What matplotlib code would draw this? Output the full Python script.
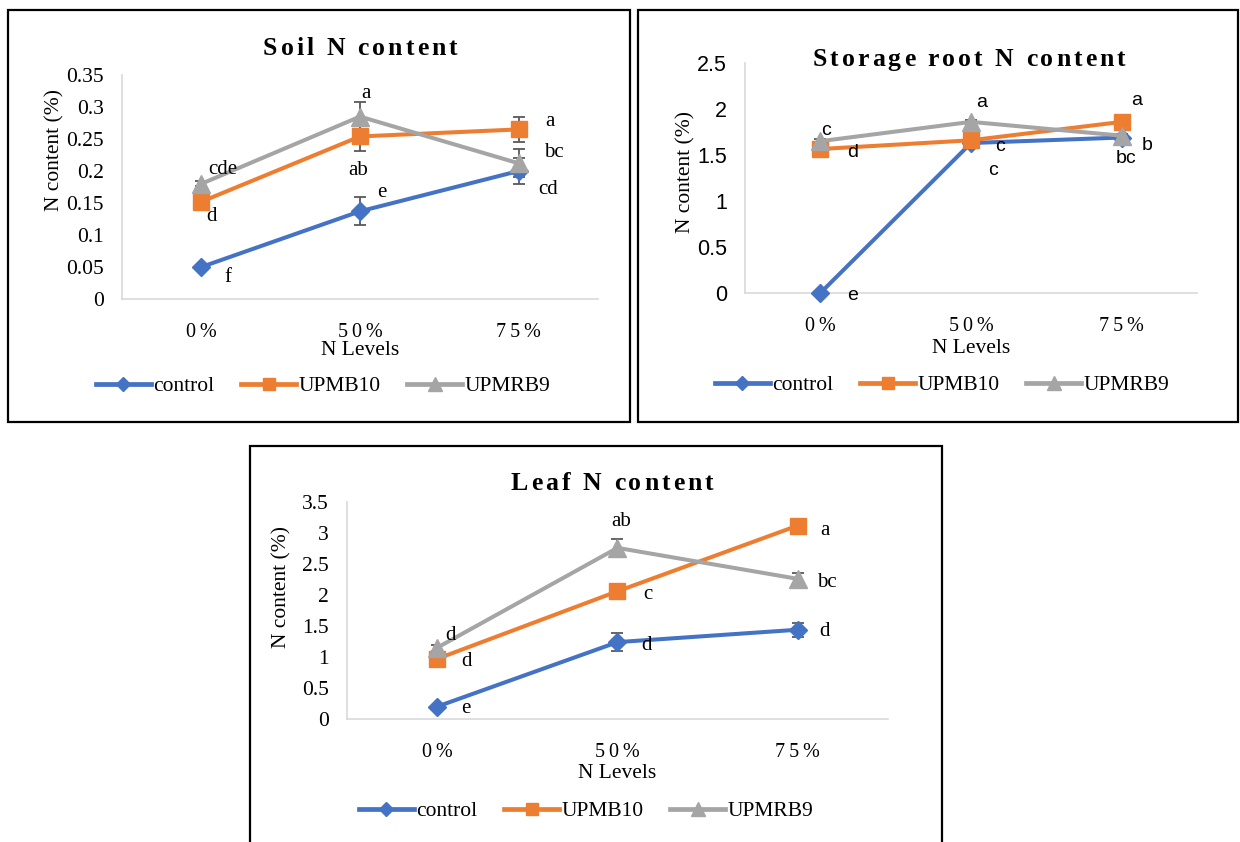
import matplotlib
matplotlib.use('Agg')
import matplotlib.pyplot as plt
from matplotlib.lines import Line2D
from matplotlib.patches import Rectangle
from matplotlib.font_manager import FontProperties

# ---------------- data ----------------
levels = ['0 %', '50 %', '75 %']
series = ['control', 'UPMB10', 'UPMRB9']

soil_control = [0.050, 0.137, 0.200]
soil_upmb10 = [0.152, 0.254, 0.265]
soil_upmrb9 = [0.180, 0.285, 0.212]
soil_err_control = [0.003, 0.022, 0.020]
soil_err_upmb10 = [0.004, 0.023, 0.020]
soil_err_upmrb9 = [0.004, 0.023, 0.022]
soil_letters_control = ['f', 'e', 'cd']
soil_letters_upmb10 = ['d', 'ab', 'a']
soil_letters_upmrb9 = ['cde', 'a', 'bc']
soil_yticks = [0, 0.05, 0.1, 0.15, 0.2, 0.25, 0.3, 0.35]

root_control = [0.00, 1.63, 1.69]
root_upmb10 = [1.565, 1.66, 1.86]
root_upmrb9 = [1.65, 1.86, 1.71]
root_err_control = [0.01, 0.02, 0.02]
root_err_upmb10 = [0.02, 0.02, 0.02]
root_err_upmrb9 = [0.02, 0.02, 0.02]
root_letters_control = ['e', 'c', 'bc']
root_letters_upmb10 = ['d', 'c', 'a']
root_letters_upmrb9 = ['c', 'a', 'b']
root_yticks = [0, 0.5, 1, 1.5, 2, 2.5]

leaf_control = [0.20, 1.24, 1.44]
leaf_upmb10 = [0.97, 2.06, 3.12]
leaf_upmrb9 = [1.15, 2.76, 2.26]
leaf_err_control = [0.03, 0.14, 0.11]
leaf_err_upmb10 = [0.05, 0.12, 0.05]
leaf_err_upmrb9 = [0.05, 0.14, 0.10]
leaf_letters_control = ['e', 'd', 'd']
leaf_letters_upmb10 = ['d', 'c', 'a']
leaf_letters_upmrb9 = ['d', 'ab', 'bc']
leaf_yticks = [0, 0.5, 1, 1.5, 2, 2.5, 3, 3.5]

# ---------------- style ----------------
colors = ['#4472C4', '#ED7D31', '#A5A5A5']
markers = ['D', 's', '^']
msizes = [9, 12, 12.5]
SERIF = ['Liberation Serif', 'DejaVu Serif']
SANS = ['Liberation Sans', 'DejaVu Sans']
THIN = '\u2009'
FS = 15.5

W, H = 1240, 842
fig = plt.figure(figsize=(W / 100, H / 100), dpi=100)
renderer = fig.canvas.get_renderer()


def fx(x):
    return x / W


def fy(y):
    return 1 - y / H


def spaced_title(text, cx, baseline, size=18.5, gap=3.0):
    prop = FontProperties(family=SERIF, weight='bold', size=size)
    widths = [renderer.get_text_width_height_descent(c, prop, ismath=False)[0]
              for c in text]
    total = sum(widths) + gap * (len(text) - 1)
    x = cx - total / 2
    for c, w in zip(text, widths):
        if c != ' ':
            fig.text(fx(x), fy(baseline), c, ha='left', va='baseline',
                     fontproperties=prop)
        x += w + gap


def panel(box, plot, title, title_xy, ylabel_xy, xlabel_y, legend_xy,
          vals, errs, letters, offsets, yticks, ytickfont, letterfont,
          letter_size):
    l, t, r, b = box
    fig.add_artist(Rectangle((fx(l), fy(b)), fx(r - l), (b - t) / H,
                             transform=fig.transFigure, fill=False,
                             edgecolor='black', linewidth=1.6))
    pl, pt, pr, pb = plot
    ax = fig.add_axes([fx(pl), fy(pb), fx(pr - pl), (pb - pt) / H])
    ax.patch.set_alpha(0)
    x = list(range(len(levels)))
    for i in range(3):
        ax.errorbar(x, vals[i], yerr=errs[i], fmt='none', ecolor='#595959',
                    elinewidth=1.3, capsize=4, capthick=1.3, zorder=2,
                    clip_on=False)
    for i in range(3):
        ax.plot(x, vals[i], color=colors[i], lw=2.9, marker=markers[i],
                ms=msizes[i], zorder=3 + i, clip_on=False)
        for j in range(3):
            dx, dy = offsets[i][j]
            ax.annotate(letters[i][j], (x[j], vals[i][j]),
                        xytext=(dx, -dy), textcoords='offset pixels',
                        ha='center', va='center', fontsize=letter_size,
                        family=letterfont, zorder=12)
    ax.set_xlim(-0.5, 2.5)
    ax.set_ylim(yticks[0], yticks[-1])
    ax.set_yticks(yticks)
    ax.set_yticklabels([f'{v:g}' for v in yticks], family=ytickfont,
                       fontsize=FS)
    ax.set_xticks(x)
    ax.set_xticklabels([THIN.join(lv.replace(' ', '')) for lv in levels],
                       family=SERIF, fontsize=14.5)
    ax.tick_params(axis='both', length=0)
    ax.tick_params(axis='y', pad=13)
    ax.tick_params(axis='x', pad=17)
    for s in ['top', 'right']:
        ax.spines[s].set_visible(False)
    for s in ['left', 'bottom']:
        ax.spines[s].set_color('#D9D9D9')
        ax.spines[s].set_linewidth(1.2)
    spaced_title(title, title_xy[0], title_xy[1])
    fig.text(fx(ylabel_xy[0]), fy(ylabel_xy[1]), 'N content (%)',
             rotation=90, ha='center', va='center', fontsize=FS,
             family=SERIF)
    fig.text(fx((pl + pr) / 2), fy(xlabel_y), 'N Levels', ha='center',
             va='center', fontsize=FS, family=SERIF)
    handles = [Line2D([], [], color=colors[i], lw=3.4, marker=markers[i],
                      ms=msizes[i] * 0.75) for i in range(3)]
    fig.legend(handles, series, loc='center',
               bbox_to_anchor=(fx(legend_xy[0]), fy(legend_xy[1])),
               ncol=3, frameon=False, handlelength=2.55, handletextpad=0.1,
               columnspacing=1.25, prop={'family': SERIF, 'size': FS})
    return ax


soil_offsets = [[(27, 10), (22, -19), (29, 18)],
                [(10, 15), (-2, 34), (31, -8)],
                [(21, -14), (6, -23), (35, -11)]]
root_offsets = [[(32, 2), (22, 27), (4, 21)],
                [(32, 3), (29, 6), (15, -21)],
                [(6, -11), (11, -19), (25, 10)]]
leaf_offsets = [[(29, 2), (29, 3), (27, 2)],
                [(29, 3), (30, 3), (27, 5)],
                [(13, -12), (4, -26), (29, 4)]]

panel(box=(8, 10, 630, 422), plot=(122, 75, 598, 299),
      title='Soil N content', title_xy=(360, 55), ylabel_xy=(55, 150),
      xlabel_y=350, legend_xy=(323, 386),
      vals=[soil_control, soil_upmb10, soil_upmrb9],
      errs=[soil_err_control, soil_err_upmb10, soil_err_upmrb9],
      letters=[soil_letters_control, soil_letters_upmb10,
               soil_letters_upmrb9],
      offsets=soil_offsets, yticks=soil_yticks, ytickfont=SERIF,
      letterfont=SERIF, letter_size=15)

panel(box=(638, 10, 1238, 422), plot=(745, 63, 1197, 293),
      title='Storage root N content', title_xy=(969, 66),
      ylabel_xy=(686, 172), xlabel_y=349, legend_xy=(942, 385),
      vals=[root_control, root_upmb10, root_upmrb9],
      errs=[root_err_control, root_err_upmb10, root_err_upmrb9],
      letters=[root_letters_control, root_letters_upmb10,
               root_letters_upmrb9],
      offsets=root_offsets, yticks=root_yticks, ytickfont=SANS,
      letterfont=SANS, letter_size=14)

panel(box=(250, 446, 942, 846), plot=(347, 502, 888, 719),
      title='Leaf N content', title_xy=(612, 490), ylabel_xy=(282, 587),
      xlabel_y=773, legend_xy=(586, 811),
      vals=[leaf_control, leaf_upmb10, leaf_upmrb9],
      errs=[leaf_err_control, leaf_err_upmb10, leaf_err_upmrb9],
      letters=[leaf_letters_control, leaf_letters_upmb10,
               leaf_letters_upmrb9],
      offsets=leaf_offsets, yticks=leaf_yticks, ytickfont=SERIF,
      letterfont=SERIF, letter_size=15)

fig.savefig('out.png', dpi=100, facecolor='white')
